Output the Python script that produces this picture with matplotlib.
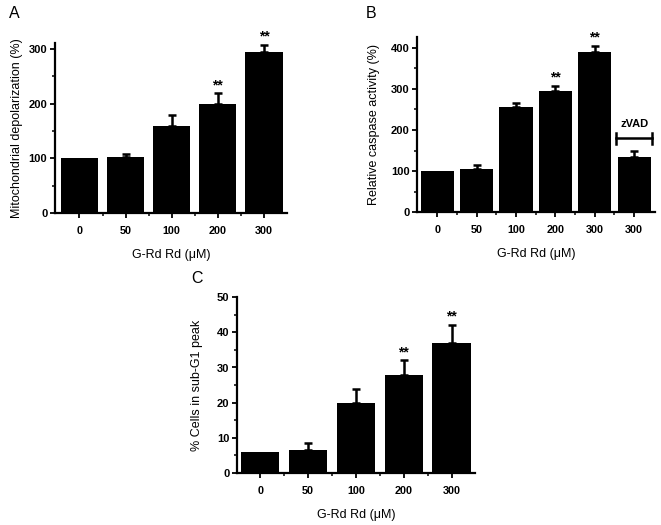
import matplotlib
matplotlib.use("Agg")
import matplotlib.pyplot as plt
import numpy as np
from matplotlib.ticker import MultipleLocator

plt.rcParams['font.family'] = ['Liberation Sans', 'DejaVu Sans']

dose_labels = ["0", "50", "100", "200", "300"]
dose_labels_b = ["0", "50", "100", "200", "300", "300"]

mito_vals = [100, 102, 160, 199, 295]
mito_err = [0, 6, 20, 20, 13]
mito_sig = ["", "", "", "**", "**"]

casp_vals = [100, 105, 255, 295, 390, 135]
casp_err = [0, 10, 10, 12, 15, 13]
casp_sig = ["", "", "", "**", "**", ""]

subg1_vals = [6, 6.5, 20, 28, 37]
subg1_err = [0, 2, 4, 4, 5]
subg1_sig = ["", "", "", "**", "**"]

xlabel = "G-Rd Rd (\u03bcM)"

fig = plt.figure(figsize=(6.61, 5.25), dpi=100)


def panel(rect, labels, vals, errs, sigs, ylabel, ylim, major, minor, xlim, width,
          letter, letter_pos, star_off, ylpad):
    ax = fig.add_axes(rect)
    x = np.arange(len(vals))
    ax.bar(x, vals, width=width, color='black', edgecolor='none', zorder=2)
    e = np.array(errs, dtype=float)
    mask = e > 0
    ax.errorbar(x[mask], np.array(vals)[mask], yerr=[np.zeros(mask.sum()), e[mask]],
                fmt='none', ecolor='black', elinewidth=1.8, capsize=2.8,
                capthick=1.8, zorder=1)
    for xi, v, er, s in zip(x, vals, errs, sigs):
        if s:
            ax.text(xi, v + er + star_off, s, ha='center', va='bottom',
                    fontsize=10, fontweight='bold', clip_on=False)
    ax.set_xlim(*xlim)
    ax.set_ylim(*ylim)
    ax.set_xticks(x)
    ax.set_xticklabels(labels, fontsize=7.8, fontweight='bold')
    ax.set_xticks(x[:-1] + 0.5, minor=True)
    ax.yaxis.set_major_locator(MultipleLocator(major))
    ax.yaxis.set_minor_locator(MultipleLocator(minor))
    for lab in ax.get_yticklabels():
        lab.set_fontweight('bold')
        lab.set_fontsize(8)
    for sp in ['top', 'right']:
        ax.spines[sp].set_visible(False)
    for sp in ['left', 'bottom']:
        ax.spines[sp].set_linewidth(1.6)
    ax.tick_params(which='major', direction='out', length=3.5, width=1.3, pad=2)
    ax.tick_params(which='minor', direction='out', length=2.5, width=1.1)
    ax.tick_params(axis='x', which='major', pad=6)
    ax.set_xlabel(xlabel, fontsize=9, labelpad=9)
    ax.set_ylabel(ylabel, fontsize=9, labelpad=ylpad)
    fig.text(letter_pos[0], letter_pos[1], letter, fontsize=11.5, ha='left', va='center')
    return ax


# Panel A
panel([0.0832, 0.594, 0.351, 0.324], dose_labels, mito_vals, mito_err, mito_sig,
      "Mitochondrial depolarization (%)", (0, 311), 100, 50, (-0.53, 4.5), 0.81,
      "A", (0.014, 0.975), 2, 4)

# Panel B
axb = panel([0.631, 0.596, 0.360, 0.334], dose_labels_b, casp_vals, casp_err, casp_sig,
            "Relative caspase activity (%)", (0, 427), 100, 50, (-0.51, 5.53), 0.84,
            "B", (0.553, 0.975), 3, 7.5)
# zVAD bracket
axb.plot([4.55, 5.45], [180, 180], color='black', lw=1.8, clip_on=False)
axb.plot([4.55, 4.55], [167, 193], color='black', lw=1.8, clip_on=False)
axb.plot([5.45, 5.45], [167, 193], color='black', lw=1.8, clip_on=False)
axb.text(5.0, 203, "zVAD", ha='center', va='bottom', fontsize=8, fontweight='bold')

# Panel C
panel([0.3585, 0.099, 0.360, 0.335], dose_labels, subg1_vals, subg1_err, subg1_sig,
      "% Cells in sub-G1 peak", (0, 50), 10, 5, (-0.49, 4.49), 0.80,
      "C", (0.29, 0.47), 0.4, 10)

fig.savefig("out.png", dpi=100)
